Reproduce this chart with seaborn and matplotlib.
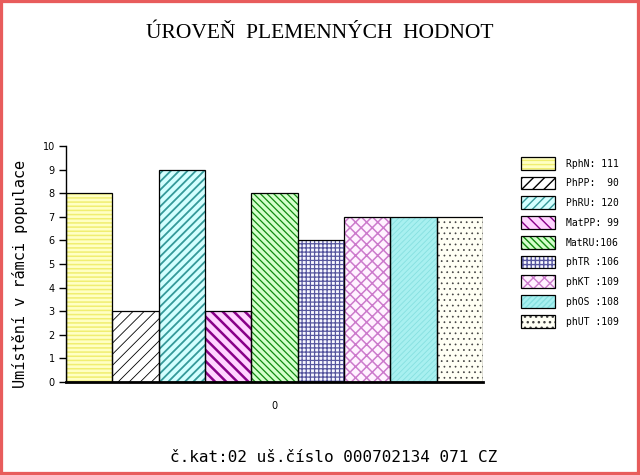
import matplotlib
matplotlib.use("Agg")
import matplotlib.pyplot as plt
import seaborn as sns
import pandas as pd
from matplotlib.patches import Rectangle, Patch

# data
traits = ["RphN", "PhPP", "PhRU", "MatPP", "MatRU", "phTR", "phKT", "phOS", "phUT"]
values = [8, 3, 9, 3, 8, 6, 7, 7, 7]
legend_labels = ["RphN: 111", "PhPP:  90", "PhRU: 120", "MatPP: 99", "MatRU:106",
                 "phTR :106", "phKT :109", "phOS :108", "phUT :109"]
group = ["0"] * len(traits)

face_colors = ["#ffffc4", "#ffffff", "#d4ffff", "#ffd4ff", "#d4ffcc",
               "#f8f8ff", "#fff2ff", "#a8f0f0", "#fffff4"]
hatch_colors = ["#f0ee70", "#000000", "#359a9a", "#880088", "#108a10",
                "#55559e", "#cc7acc", "#86e0e0", "#404040"]
hatches = ["----", "///", "////", "\\\\\\", "\\" * 5,
           "++++", "xxx", "//////", "..."]
hatch_widths = [1.1, 0.6, 1.3, 1.8, 0.9, 0.9, 1.1, 0.6, 0.5]

df = pd.DataFrame({"group": group, "trait": traits, "value": values})

sns.set_style("white")
plt.rcParams["text.color"] = "black"


def style_patch(p, i):
    p.set_facecolor(face_colors[i])
    p.set_hatch(hatches[i])
    p.set_edgecolor(hatch_colors[i])
    p.set_linewidth(0)
    if hasattr(p, "set_hatch_linewidth"):
        p.set_hatch_linewidth(hatch_widths[i])
    else:
        p._hatch_linewidth = hatch_widths[i]


fig = plt.figure(figsize=(6.4, 4.75), dpi=100)
ax = fig.add_axes([66 / 640, 1 - 382 / 475, (483 - 66) / 640, (382 - 146) / 475])

sns.barplot(data=df, x="group", y="value", hue="trait", hue_order=traits,
            width=1.0, dodge=True, errorbar=None, legend=False,
            saturation=1, ax=ax)

for i, cont in enumerate(ax.containers):
    for bar in cont.patches:
        style_patch(bar, i)
        ax.add_patch(Rectangle(bar.get_xy(), bar.get_width(), bar.get_height(),
                               fill=False, edgecolor="black", linewidth=0.9, zorder=3))

ax.set_xlim(-0.5, 0.5)
ax.set_ylim(0, 10)
ax.set_yticks(range(0, 11))
ax.set_xlabel("")
ax.set_ylabel("")
sns.despine(ax=ax)
ax.spines["left"].set_linewidth(1)
ax.spines["bottom"].set_linewidth(2)
ax.spines["left"].set_color("black")
ax.spines["bottom"].set_color("black")
ax.tick_params(axis="y", left=True, direction="out", length=5, width=1,
               labelsize=7, pad=3, colors="black")
ax.tick_params(axis="x", bottom=False, length=0, labelsize=7, pad=14,
               labelcolor="black")

handles = []
for i in range(len(traits)):
    hp = Patch()
    style_patch(hp, i)
    handles.append((hp, Patch(fill=False, edgecolor="black", linewidth=0.9)))
fig.legend(handles, legend_labels, loc="upper left",
           bbox_to_anchor=(521 / 640, 1 - 157 / 475), frameon=False,
           borderpad=0, borderaxespad=0, prop={"family": "DejaVu Sans Mono", "size": 7},
           handlelength=3.5, handleheight=1.64, labelspacing=0.72, handletextpad=1.13,
           labelcolor="black")

fig.text(0.5, 1 - 33 / 475, "ÚROVEŇ  PLEMENNÝCH  HODNOT", ha="center", va="center",
         family="Liberation Serif", fontsize=15.5, color="black")
fig.text(20 / 640, 1 - 274 / 475, "Umístění v rámci populace", rotation=90,
         ha="center", va="center", family="DejaVu Sans Mono", fontsize=11, color="black")
fig.text(334 / 640, 1 - 457 / 475, "č.kat:02 uš.číslo 000702134 071 CZ",
         ha="center", va="center", family="DejaVu Sans Mono", fontsize=11.5, color="black")

fig.add_artist(Rectangle((0, 0), 1, 1, transform=fig.transFigure, fill=False,
                         edgecolor="#e85c5c", linewidth=4.5))

fig.savefig("out.png", dpi=100)
